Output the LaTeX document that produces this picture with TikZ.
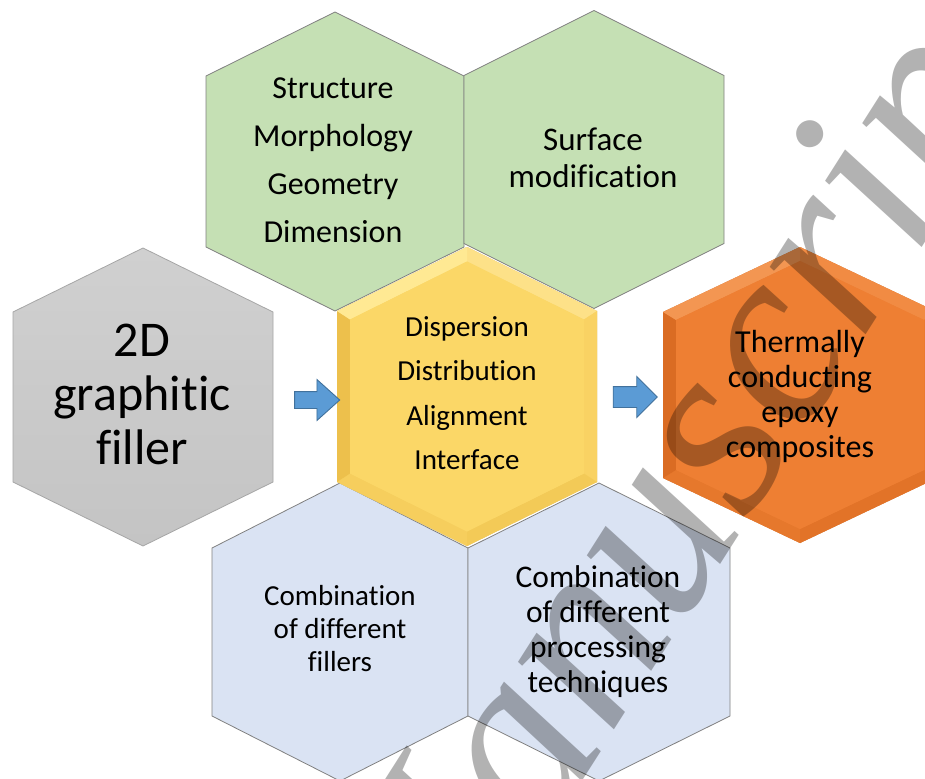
\documentclass[tikz,border=0pt]{standalone}
\usepackage{fontspec}
\setmainfont{Carlito}[Ligatures={NoCommon}]
\newfontfamily\wmfont{Liberation Serif}
\usetikzlibrary{shapes.arrows}
\definecolor{greenfill}{HTML}{C5E0B4}
\definecolor{bluefill}{HTML}{DAE3F3}
\definecolor{grayfillA}{HTML}{D0D0D0}
\definecolor{grayfillB}{HTML}{C4C4C4}
\definecolor{hexline}{HTML}{808080}
\definecolor{ybody}{HTML}{FBD767}
\definecolor{yTL}{HTML}{FFE993}
\definecolor{yTR}{HTML}{FDE188}
\definecolor{yR}{HTML}{F9D263}
\definecolor{yBR}{HTML}{F3CA57}
\definecolor{yBL}{HTML}{F6CE5D}
\definecolor{yL}{HTML}{EDC04C}
\definecolor{obody}{HTML}{EE7F33}
\definecolor{oTL}{HTML}{F39652}
\definecolor{oTR}{HTML}{F18B43}
\definecolor{oR}{HTML}{EB7B2F}
\definecolor{oBR}{HTML}{E27328}
\definecolor{oBL}{HTML}{E6782C}
\definecolor{oL}{HTML}{DA6C23}
\definecolor{arrowfill}{HTML}{5B9BD5}
\definecolor{arrowline}{HTML}{41719C}
% #1 prefix, #2 cx, #3 cy, #4 half width, #5 half height, #6 tip height
\newcommand\defhex[6]{%
  \coordinate (#1-1) at (#2,#3-#5);
  \coordinate (#1-2) at (#2+#4,#3-#5+#6);
  \coordinate (#1-3) at (#2+#4,#3+#5-#6);
  \coordinate (#1-4) at (#2,#3+#5);
  \coordinate (#1-5) at (#2-#4,#3+#5-#6);
  \coordinate (#1-6) at (#2-#4,#3-#5+#6);}
\newcommand\hexof[1]{(#1-1) -- (#1-2) -- (#1-3) -- (#1-4) -- (#1-5) -- (#1-6) -- cycle}
% #1 outer, #2 inner, #3..#8 facet colours TR R BR BL L TL
\newcommand\bevel[8]{%
  \fill[#3] (#1-1) -- (#1-2) -- (#2-2) -- (#2-1) -- cycle;
  \fill[#4] (#1-2) -- (#1-3) -- (#2-3) -- (#2-2) -- cycle;
  \fill[#5] (#1-3) -- (#1-4) -- (#2-4) -- (#2-3) -- cycle;
  \fill[#6] (#1-4) -- (#1-5) -- (#2-5) -- (#2-4) -- cycle;
  \fill[#7] (#1-5) -- (#1-6) -- (#2-6) -- (#2-5) -- cycle;
  \fill[#8] (#1-6) -- (#1-1) -- (#2-1) -- (#2-6) -- cycle;}
\tikzset{
  hexborder/.style={draw=hexline, line width=0.8pt},
  label/.style={align=center, inner sep=0pt, text=black},
  blockarrow/.style={single arrow, draw=arrowline, fill=arrowfill, line width=0.9pt,
    inner xsep=0pt, single arrow head indent=0pt},
}
\begin{document}
\begin{tikzpicture}[x=1pt,y=-1pt]
\useasboundingbox (0,0) rectangle (925,778);
\clip (0,0) rectangle (925,778);
\fill[white] (0,0) rectangle (925,778);
% geometry
\defhex{gl}{335}{161.5}{129}{149.5}{64}
\defhex{gr}{594}{159.5}{130}{149}{65}
\defhex{gy}{143}{397}{130}{149}{64}
\defhex{bl}{340}{632}{128}{149}{65}
\defhex{br}{599}{632}{131}{149}{65}
\defhex{ye}{467}{396.5}{130}{149.5}{64}
\defhex{yi}{467}{396.5}{117}{135}{58}
\defhex{or}{800}{395}{137}{148}{65}
\defhex{oi}{800}{395}{124}{134}{59}
% plain hexagons
\filldraw[fill=greenfill, hexborder] \hexof{gl};
\filldraw[fill=greenfill, hexborder] \hexof{gr};
\filldraw[fill=bluefill, hexborder] \hexof{bl};
\filldraw[fill=bluefill, hexborder] \hexof{br};
\shadedraw[top color=grayfillA, bottom color=grayfillB, draw=hexline!70, line width=0.8pt] \hexof{gy};
% yellow bevelled hexagon
\begin{scope}[shift={(2,2.5)}]
  \fill[black!40, opacity=0.6] \hexof{ye};
\end{scope}
\fill[ybody] \hexof{ye};
\bevel{ye}{yi}{yTR}{yR}{yBR}{yBL}{yL}{yTL}
\fill[ybody] \hexof{yi};
% orange bevelled hexagon
\begin{scope}[shift={(2,2.5)}]
  \fill[black!40, opacity=0.6] \hexof{or};
\end{scope}
\fill[obody] \hexof{or};
\bevel{or}{oi}{oTR}{oR}{oBR}{oBL}{oL}{oTL}
\fill[obody] \hexof{oi};
% texts
\node[label, font={\fontsize{32}{48}\selectfont}] (tgl) at (333,160.5) {Structure\\Morphology\\Geometry\\Dimension};
\node[label, font={\fontsize{33}{37}\selectfont}] (tgr) at (593,158) {Surface\\modification};
\node[label, font={\fontsize{29}{44.5}\selectfont}] (tye) at (467,393) {Dispersion\\Distribution\\Alignment\\Interface};
\node[label, font={\fontsize{50}{54}\selectfont}] (tgy) at (142,394) {2D\\graphitic\\filler};
\node[label, font={\fontsize{32}{35}\selectfont}] (tor) at (800,396) {Thermally\\conducting\\epoxy\\composites};
\node[label, font={\fontsize{29}{33}\selectfont}] (tbl) at (340,629) {Combination\\of different\\fillers};
\node[label, font={\fontsize{31.5}{35}\selectfont}] (tbr) at (598,632) {Combination\\of different\\processing\\techniques};
% block arrows
\node[blockarrow, inner ysep=8pt, minimum height=45pt, single arrow head extend=12pt, single arrow tip angle=84] (a1) at (312.5,400) {};
\node[blockarrow, inner ysep=10pt, minimum height=44pt, single arrow head extend=10pt, single arrow tip angle=90] (a2) at (630,397) {};
% watermark
\node[rotate=57.5, anchor=base west, inner sep=0pt, text=black, text opacity=0.3,
  font={\wmfont\itshape\fontsize{255}{255}\selectfont}] (wm) at (427,1024.6) {Manuscript};
\end{tikzpicture}
\end{document}
